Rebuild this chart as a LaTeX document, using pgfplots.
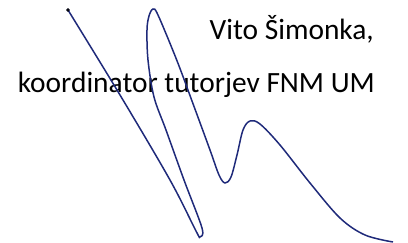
\documentclass[border=0pt]{standalone}
\usepackage{fontspec}
\setmainfont{Carlito}
\usepackage{pgfplots}
\pgfplotsset{compat=1.18}
\definecolor{ink}{HTML}{1F2A7A}
\begin{document}
\begin{tikzpicture}
\begin{axis}[
  width=408bp, height=243bp, scale only axis,
  xmin=0, xmax=408, ymin=0, ymax=243, y dir=reverse,
  hide axis, clip=false,
]
\node[anchor=base east, inner sep=0pt, font=\fontsize{29.4bp}{34bp}\selectfont] at (axis cs:374,39.5) {Vito Šimonka,};
\node[anchor=base east, inner sep=0pt, font=\fontsize{29.4bp}{34bp}\selectfont] at (axis cs:375,92) {koordinator tutorjev FNM UM};
\addplot[ink, line width=1.5bp, smooth, tension=0.55, mark=none] coordinates {
(68,10) (120,95) (170,180) (196,231) (200,237)
(202,228) (184,180) (166,130) (154,97) (148,60) (147,30) (149,16) (153,9)
(158,15) (176.7,60) (192,101) (210,150) (219,175) (225,183)
(231,177) (237,155) (243,130) (250,121) (260,124) (280,145)
(310,183) (340,218) (365,235) (393,242)
};
\addplot[only marks, mark=*, mark size=1.6bp, color=black!85!ink] coordinates {(68,10)};
\end{axis}
\path (current axis.south west) rectangle (current axis.north east);
\end{tikzpicture}
\end{document}
